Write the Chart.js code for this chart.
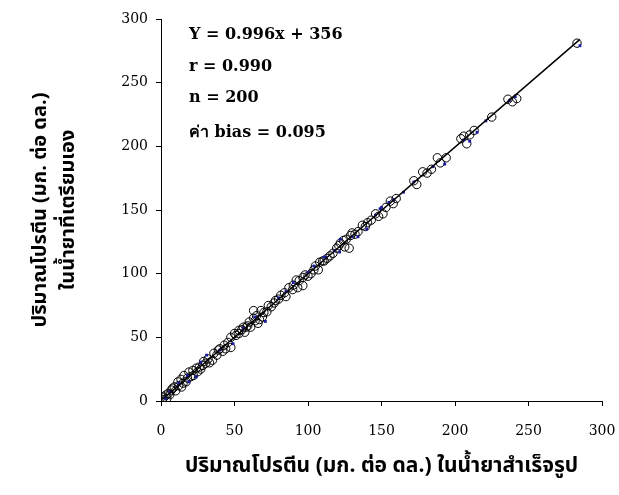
<!DOCTYPE html>
<html>
<head>
<meta charset="utf-8">
<script src="https://cdn.jsdelivr.net/npm/chart.js@4.4.1/dist/chart.umd.min.js"></script>
<style>
  html, body { margin: 0; padding: 0; background: #fff; }
  #wrap { width: 619px; height: 495px; }
</style>
</head>
<body>
<div id="wrap"><canvas id="myChart" width="619" height="495"></canvas></div>
<script>
// open circles (x = ready-made reagent, y = home-made reagent)
var circleX = [2, 3.4, 5, 7, 9, 11.5, 13.6, 15, 15.6, 18, 19, 21.7, 24, 26, 28.5, 30.5, 35, 36, 39, 44,
  47.5, 43, 45.5, 51, 53, 58, 47.5, 50, 53, 56, 59, 63, 66, 69, 63, 68, 70, 73, 77, 81.5,
  84, 87, 89.6, 93, 96.5, 94, 96.5, 107, 110, 105, 111, 113, 119.5, 122, 124, 128, 129, 130, 137, 139,
  140.5, 148, 151, 156, 158, 174, 181, 184, 188, 194, 190, 206, 208, 213, 225, 239, 242, 283,
  1, 4, 6, 8, 10, 12, 14, 17, 20, 22, 25, 27, 29, 32, 33, 38, 40, 42, 55, 57,
  60, 61, 64, 65, 67, 72, 75, 78, 80, 85, 90, 92, 98, 100, 102, 104, 108, 115, 117, 121,
  125, 126, 132, 134, 143, 146, 153, 160, 172, 178, 204, 210, 236];
var circleY = [3, 4.7, 6, 8.6, 11, 15, 17, 14, 20, 18, 22.7, 24, 25.8, 26.6, 28, 29.7, 32, 37.5, 40, 41,
  42, 43.8, 46, 51.5, 53, 58, 50, 53, 55.5, 58, 59, 65, 61, 66, 71, 71, 69.5, 75, 77, 83,
  85, 89, 87.5, 89, 90.6, 94.5, 97, 103, 110, 106, 110, 112, 120, 124, 126, 120, 130, 132, 138, 137,
  140, 145, 147, 157, 155, 170, 179, 182, 191, 191, 187, 208, 202, 212.5, 223, 235, 237.5, 281,
  1, 2, 5, 10, 8, 12, 11, 15, 19, 20, 23, 25, 31, 33, 30, 36, 41, 39, 56, 54,
  62, 58, 63, 67, 64, 70, 74, 79, 80, 82, 91, 95, 99, 98, 100, 103, 109, 114, 116, 122,
  121, 127, 131, 133, 142, 147, 152, 159, 173, 180, 206, 209, 237];

// small blue points
var dotX = [285, 241, 215, 206, 210, 193, 172, 158, 155, 149, 140, 134, 122, 121.5, 112, 111, 104, 90, 80, 71,
  49, 31, 27, 19, 24, 18, 12, 6, 3, 40, 56, 64, 85, 100, 118, 130, 146, 165, 185, 221, 237, 150];
var dotY = [279, 239, 211, 205, 204, 186, 172, 158, 156, 151, 135, 129, 127, 117, 113, 113, 106, 93, 81, 62.5,
  45, 36, 30.5, 15, 19, 20, 14, 7, 2, 40, 57, 66, 86, 101, 118, 129, 146, 164, 184, 220, 236, 152];

// regression line end points
var lineX = [1, 285];
var lineY = [1.4, 284];

var notes = ['Y = 0.996x + 356', 'r = 0.990', 'n = 200', 'ค่า bias = 0.095'];

function pairs(xs, ys) {
  var out = [];
  for (var i = 0; i < xs.length; i++) out.push({x: xs[i], y: ys[i]});
  return out;
}

var thaiFont = '"Noto Sans Thai", "Noto Serif Thai", Loma, Garuda, "Tlwg Typo", "DejaVu Sans", sans-serif';

var notesPlugin = {
  id: 'notes',
  afterDraw: function(chart) {
    var ctx = chart.ctx;
    var a = chart.chartArea;
    var ys = [35, 67, 98, 133];
    ctx.save();
    ctx.fillStyle = '#000';
    ctx.textBaseline = 'middle';
    ctx.textAlign = 'left';
    ctx.font = 'bold 16px "DejaVu Serif", serif';
    for (var i = 0; i < notes.length; i++) {
      ctx.fillText(notes[i], a.left + 28, ys[i]);
    }
    ctx.restore();
  }
};

var ctx = document.getElementById('myChart');
var myChart = new Chart(ctx, {
  type: 'scatter',
  data: {
    datasets: [
      {
        label: 'line',
        data: pairs(lineX, lineY),
        showLine: true,
        borderColor: '#000',
        borderWidth: 1.5,
        pointRadius: 0,
        order: 0
      },
      {
        label: 'dots',
        data: pairs(dotX, dotY),
        pointStyle: 'rect',
        pointRadius: 2,
        backgroundColor: '#1a1aa0',
        borderColor: '#1a1aa0',
        borderWidth: 0,
        order: 1
      },
      {
        label: 'circles',
        data: pairs(circleX, circleY),
        pointRadius: 4.2,
        backgroundColor: 'rgba(255,255,255,0)',
        borderColor: '#000',
        borderWidth: 1,
        order: 2
      }
    ]
  },
  options: {
    responsive: false,
    animation: false,
    layout: { padding: { top: 19, right: 0, left: 0, bottom: 0 } },
    plugins: { legend: { display: false }, tooltip: { enabled: false } },
    scales: {
      x: {
        min: 0, max: 300,
        ticks: { stepSize: 50, color: '#000', padding: 17, maxRotation: 0,
          font: { family: '"DejaVu Serif", serif', size: 14 } },
        grid: { drawOnChartArea: false, drawTicks: true, tickLength: 5, color: '#000' },
        border: { display: true, color: '#000', width: 1 },
        title: {
          display: true,
          text: 'ปริมาณโปรตีน (มก. ต่อ ดล.) ในน้ำยาสำเร็จรูป',
          color: '#000',
          padding: { top: 0, bottom: 13 },
          font: { family: thaiFont, size: 21, weight: 'bold', lineHeight: 1.35 }
        },
        afterFit: function(scale) {
          scale.height = 94;
          scale.paddingLeft = 0;
          scale.paddingRight = 17;
        }
      },
      y: {
        min: 0, max: 300,
        ticks: { stepSize: 50, color: '#000', padding: 8,
          font: { family: '"DejaVu Serif", serif', size: 14 } },
        grid: { drawOnChartArea: false, drawTicks: true, tickLength: 5, color: '#000' },
        border: { display: true, color: '#000', width: 1 },
        title: {
          display: true,
          text: ['ปริมาณโปรตีน (มก. ต่อ ดล.)', 'ในน้ำยาที่เตรียมเอง'],
          color: '#000',
          padding: { top: 28, bottom: 0 },
          font: { family: thaiFont, size: 20, weight: 'bold', lineHeight: 1.4 }
        },
        afterFit: function(scale) { scale.width = 161; }
      }
    }
  },
  plugins: [notesPlugin]
});
console.log(myChart);
</script>
</body>
</html>
